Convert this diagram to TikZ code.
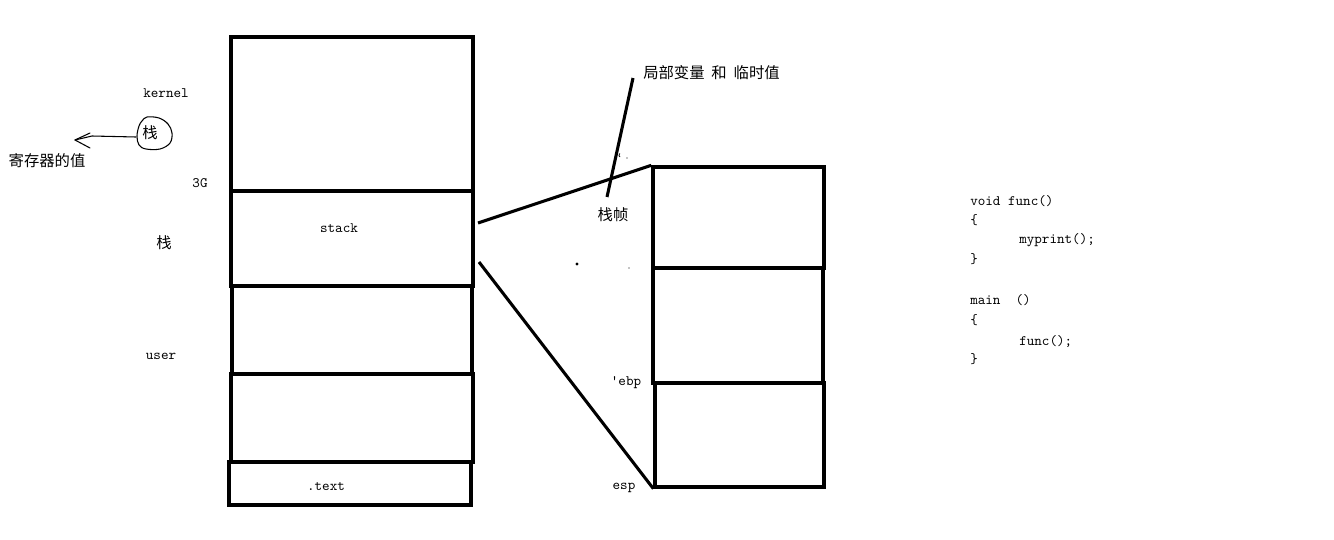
\documentclass[tikz,border=0pt]{standalone}
\usepackage{fontspec}
\newfontfamily\cjk{Noto Sans CJK SC}
\usetikzlibrary{fit}
\begin{document}
\begin{tikzpicture}[x=0.75pt,y=-0.75pt,
  box/.style={draw, line width=2.5pt, inner sep=0pt},
  conn/.style={line width=2.3pt},
  thin/.style={line width=0.8pt, line cap=round, line join=round},
  mono/.style={font=\ttfamily\fontsize{10.8}{12}\selectfont, inner sep=0pt},
  zh/.style={font=\cjk\fontsize{11.5}{13}\selectfont, inner sep=0pt},
  code/.style={mono, anchor=west}]
\useasboundingbox[fill=white] (0,0) rectangle (1334,539);

% left memory column
\node[box, fit={(231,37) (473,191)}] (kernelbox) {};
\node[box, fit={(231,191) (473,286)}] (stackbox) {};
\node[box, fit={(232,286) (472,374)}] (userbox) {};
\node[box, fit={(231,374) (473,462)}] (heapbox) {};
\node[box, fit={(229,462) (471,505)}] (textbox) {};

\node[mono] (stacklbl) at (339,228) {stack};
\node[mono] (textlbl) at (326,487) {.text};

% left labels
\node[mono] (kernel) at (166,93) {kernel};
\node[zh] (zhan1) at (150,133) {栈};
\node[zh] (regval) at (47,161) {寄存器的值};
\node[mono] (g3) at (200,183) {3G};
\node[zh] (zhan2) at (164,243) {栈};
\node[mono] (user) at (161,356) {user};

% hand-drawn circle around zhan1
\draw[thin] plot[smooth cycle, tension=0.6] coordinates {(142,121) (147,117) (159,118) (168,124) (172,133) (170,143) (160,149) (146,149) (139,145) (137,136) (139,126)};
% hand-drawn arrow
\coordinate (arS) at (136,137);
\coordinate (arM) at (92,136);
\coordinate (arT) at (75,140);
\coordinate (arU) at (90,133);
\coordinate (arL) at (90,148);
\draw[thin] (arS) -- (arM) -- (arT);
\draw[thin] (arU) -- (arT) -- (arL);

% right frame column
\node[box, fit={(653,167) (824,268)}] (f1) {};
\node[box, fit={(653,268) (823,383)}] (f2) {};
\node[box, fit={(655,383) (824,487)}] (f3) {};

% zoom connectors
\coordinate (s1) at (478,223);
\coordinate (s2) at (479,262);
\draw[conn] (s1) -- (f1.north west);
\draw[conn] (s2) -- (f3.south west);

% note
\node[zh, anchor=west] (note) at (643,73) {局部变量\hspace{0.45em}和\hspace{0.45em}临时值};
\node[zh] (frame) at (613,215) {栈帧};
\coordinate (p1) at (633,78);
\coordinate (p2) at (607,197);
\draw[conn] (p1) -- (p2);

\node[mono] (ebp) at (626,383) {'ebp};
\node[mono] (esp) at (624,488) {esp};

% specks
\fill (577,264) circle (1.6);
\fill (629,268) circle (0.6);
\fill (627,158) circle (0.6);
\draw[line width=0.6pt] (620,157) arc (120:240:2);

% code
\node[code] (c1) at (970,201) {void func()};
\node[code] (c2) at (970,220) {\{};
\node[code] (c3) at (1019,240) {myprint();};
\node[code] (c4) at (970,259) {\}};
\node[code] (c5) at (970,300) {main\ \ ()};
\node[code] (c6) at (970,320) {\{};
\node[code] (c7) at (1019,341) {func();};
\node[code] (c8) at (970,359) {\}};
\end{tikzpicture}
\end{document}
